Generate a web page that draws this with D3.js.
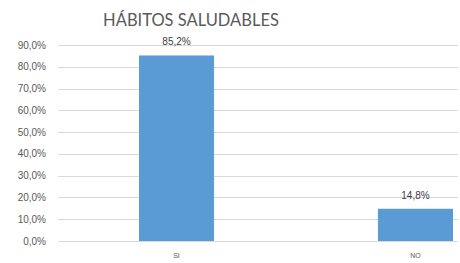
<!DOCTYPE html>
<html><head><meta charset="utf-8">
<script src="https://cdn.jsdelivr.net/npm/d3@7"></script>
<style>body{margin:0;background:#fff}svg{display:block}</style>
</head><body>
<script>
const categories = ["SI", "NO"];
const values = [85.2, 14.8];
const valueLabels = ["85,2%", "14,8%"];
const yTicks = [0, 10, 20, 30, 40, 50, 60, 70, 80, 90];
const title = "HÁBITOS SALUDABLES";

const W = 460, H = 263;
const svg = d3.select("body").append("svg").attr("width", W).attr("height", H);

const y = d3.scaleLinear().domain([0, 90]).range([241, 45]);
const x = d3.scaleBand().domain(categories).range([58, 534]).paddingInner(0.686).paddingOuter(0.339);
const gridRight = 458;

svg.append("text").attr("x", 191).attr("y", 26).attr("text-anchor", "middle")
  .attr("font-family", "Lato, 'Open Sans', sans-serif").attr("font-size", 16.5)
  .attr("fill", "#595959").text(title);

const g = svg.append("g");
g.selectAll("line.grid").data(yTicks).enter().append("line")
  .attr("x1", 58).attr("x2", gridRight)
  .attr("y1", d => Math.round(y(d)) + 0.5).attr("y2", d => Math.round(y(d)) + 0.5)
  .attr("stroke", "#d9d9d9").attr("stroke-width", 1);

g.selectAll("text.tick").data(yTicks).enter().append("text")
  .attr("x", 46).attr("y", d => y(d) + 3.5).attr("text-anchor", "end")
  .attr("font-family", "'Liberation Sans', Arial, sans-serif").attr("font-size", 10)
  .attr("fill", "#595959").text(d => d.toFixed(1).replace(".", ",") + "%");

g.selectAll("rect.bar").data(values).enter().append("rect")
  .attr("x", (d, i) => x(categories[i])).attr("width", x.bandwidth())
  .attr("y", d => y(d)).attr("height", d => y(0) - y(d))
  .attr("fill", "#5b9bd5");

g.selectAll("text.val").data(values).enter().append("text")
  .attr("x", (d, i) => x(categories[i]) + x.bandwidth() / 2)
  .attr("y", d => y(d) - 10).attr("text-anchor", "middle")
  .attr("font-family", "'Liberation Sans', Arial, sans-serif").attr("font-size", 10)
  .attr("fill", "#404040").text((d, i) => valueLabels[i]);

g.selectAll("text.cat").data(categories).enter().append("text")
  .attr("x", d => x(d) + x.bandwidth() / 2).attr("y", 258).attr("text-anchor", "middle")
  .attr("font-family", "'Liberation Sans', Arial, sans-serif").attr("font-size", 7)
  .attr("fill", "#595959").text(d => d);
</script>
</body></html>
